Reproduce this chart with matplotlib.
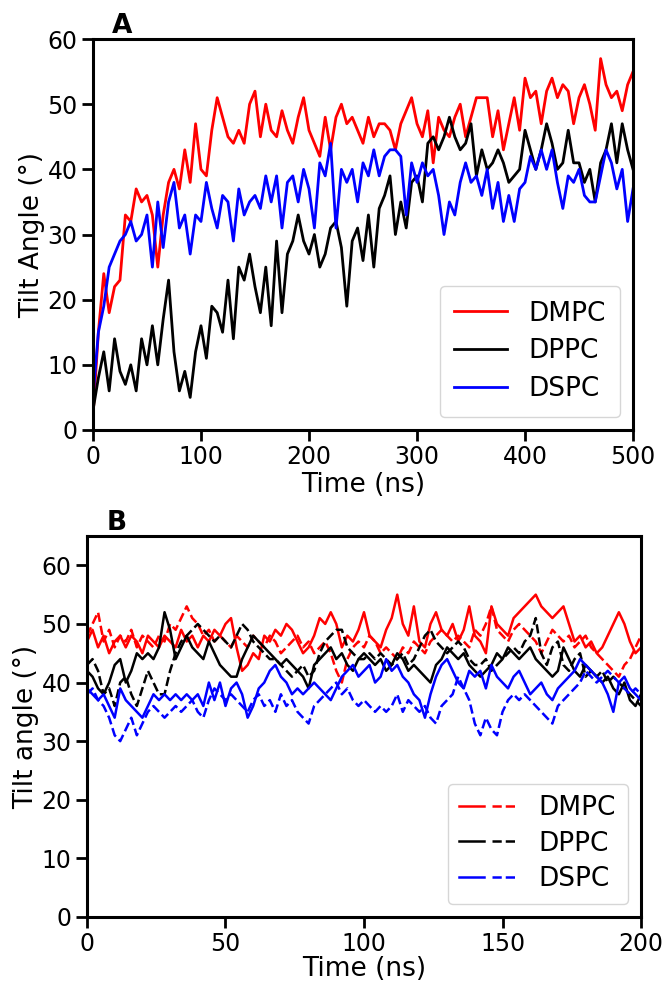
import numpy as np
import matplotlib
matplotlib.use("Agg")
import matplotlib.pyplot as plt
from matplotlib.legend_handler import HandlerTuple

# ---- panel A: 0-500 ns, every 5 ns
tA = np.arange(0, 501, 5)
dmpc_A = [2, 15, 24, 18, 22, 23, 33, 32, 37, 35, 36, 33, 25, 33, 38, 40, 37, 43, 38, 47,
          40, 39, 46, 51, 48, 45, 44, 46, 44, 50, 52, 45, 50, 46, 45, 49, 46, 44, 48, 51,
          46, 44, 42, 48, 43, 48, 50, 47, 48, 46, 44, 48, 45, 47, 47, 46, 43, 47, 49, 51,
          47, 45, 49, 41, 48, 46, 45, 48, 50, 45, 48, 51, 51, 51, 45, 49, 43, 47, 51, 46,
          54, 51, 52, 47, 52, 54, 51, 53, 52, 47, 51, 53, 50, 46, 57, 53, 51, 52, 49, 53, 55]
dppc_A = [3, 8, 12, 6, 14, 9, 7, 10, 6, 14, 10, 16, 10, 17, 23, 12, 6, 9, 5, 12,
          16, 11, 19, 18, 15, 23, 14, 25, 23, 27, 22, 18, 25, 16, 29, 18, 27, 29, 33, 29,
          27, 30, 25, 27, 31, 32, 28, 19, 29, 31, 26, 33, 25, 34, 36, 39, 30, 35, 31, 38,
          39, 35, 44, 45, 43, 45, 48, 45, 43, 44, 47, 39, 43, 40, 41, 43, 41, 38, 39, 40,
          46, 43, 40, 43, 47, 44, 40, 41, 46, 41, 41, 38, 40, 35, 41, 43, 47, 41, 47, 43, 40]
dspc_A = [5, 15, 19, 25, 27, 29, 30, 32, 29, 30, 33, 25, 35, 28, 35, 38, 31, 33, 27, 33,
          32, 38, 34, 31, 36, 35, 29, 37, 33, 35, 36, 34, 39, 35, 39, 31, 38, 39, 35, 40,
          37, 31, 41, 39, 44, 31, 40, 38, 40, 35, 41, 39, 43, 39, 42, 43, 43, 42, 33, 41,
          38, 41, 39, 40, 36, 30, 35, 33, 38, 41, 38, 39, 36, 40, 34, 38, 32, 36, 32, 37,
          38, 42, 40, 43, 40, 43, 38, 34, 39, 38, 40, 36, 35, 35, 39, 43, 41, 37, 40, 32, 37]

# ---- panel B: 0-200 ns, every 2 ns (solid = run 1, dashed = run 2)
tB = np.arange(0, 201, 2)
dmpc_B1 = [47, 49, 46, 48, 45, 47, 48, 46, 48, 47, 45, 48, 47, 46, 48, 47, 46, 49, 47, 48,
           46, 48, 47, 49, 48, 50, 51, 46, 42, 43, 45, 44, 48, 47, 49, 48, 50, 49, 47, 45,
           46, 48, 51, 50, 52, 50, 46, 48, 47, 49, 52, 48, 47, 46, 49, 51, 55, 50, 48, 53,
           47, 46, 50, 52, 49, 48, 50, 47, 49, 53, 48, 47, 45, 53, 50, 49, 48, 51, 52, 53,
           54, 55, 53, 52, 51, 52, 53, 50, 47, 48, 46, 47, 45, 46, 48, 50, 52, 50, 47, 45, 46]
dmpc_B2 = [48, 50, 52, 47, 49, 46, 48, 47, 49, 46, 48, 47, 46, 48, 47, 50, 49, 51, 53, 51,
           50, 48, 49, 47, 48, 47, 46, 48, 47, 46, 48, 47, 46, 48, 47, 45, 46, 47, 48, 46,
           47, 45, 46, 47, 45, 42, 40, 44, 46, 47, 46, 48, 47, 45, 46, 45, 44, 46, 45, 47,
           46, 45, 47, 48, 49, 48, 47, 48, 47, 46, 49, 48, 50, 53, 49, 48, 47, 49, 50, 49,
           48, 47, 45, 47, 49, 48, 47, 48, 46, 47, 48, 46, 45, 44, 43, 42, 41, 43, 44, 46, 48]
dppc_B1 = [42, 41, 39, 38, 40, 43, 44, 40, 42, 45, 44, 45, 44, 46, 52, 49, 44, 46, 48, 46,
           45, 44, 47, 45, 43, 42, 41, 41, 44, 46, 48, 47, 46, 45, 44, 43, 44, 43, 42, 41,
           39, 43, 44, 45, 46, 44, 45, 43, 42, 44, 45, 44, 43, 44, 42, 43, 45, 44, 42, 43,
           42, 41, 40, 43, 44, 46, 45, 44, 45, 43, 42, 41, 42, 43, 45, 44, 46, 45, 44, 45,
           46, 44, 43, 42, 41, 42, 46, 44, 42, 41, 43, 42, 41, 40, 41, 39, 38, 40, 37, 36, 38]
dppc_B2 = [43, 44, 42, 38, 39, 36, 40, 41, 38, 36, 39, 42, 40, 38, 38, 42, 45, 47, 48, 49,
           50, 49, 48, 47, 48, 47, 46, 48, 50, 49, 47, 46, 45, 44, 44, 43, 42, 41, 42, 43,
           41, 42, 45, 47, 48, 49, 49, 46, 45, 44, 44, 45, 44, 45, 44, 43, 44, 45, 43, 44,
           46, 48, 49, 47, 46, 45, 46, 47, 46, 44, 43, 43, 44, 42, 43, 44, 45, 46, 45, 47,
           48, 51, 45, 43, 46, 47, 43, 42, 44, 45, 41, 42, 41, 42, 40, 41, 40, 39, 38, 37, 36]
dspc_B1 = [39, 38, 37, 38, 36, 34, 39, 37, 36, 35, 34, 36, 38, 37, 38, 37, 38, 37, 38, 37,
           38, 36, 40, 37, 40, 36, 39, 40, 38, 34, 36, 39, 40, 42, 43, 41, 40, 38, 39, 38,
           39, 40, 39, 38, 37, 39, 41, 42, 43, 41, 42, 43, 40, 41, 44, 42, 43, 41, 40, 38,
           37, 34, 38, 41, 43, 44, 42, 40, 39, 42, 41, 42, 39, 43, 41, 40, 39, 41, 42, 40,
           38, 39, 40, 38, 37, 39, 40, 41, 42, 44, 43, 42, 41, 40, 38, 35, 40, 41, 39, 38, 37]
dspc_B2 = [38, 39, 37, 36, 34, 31, 30, 32, 34, 31, 33, 35, 36, 35, 34, 35, 36, 35, 36, 37,
           35, 34, 37, 39, 38, 37, 38, 37, 36, 35, 37, 38, 36, 37, 35, 38, 36, 37, 35, 34,
           33, 36, 37, 38, 39, 40, 38, 39, 37, 36, 37, 36, 35, 36, 35, 36, 38, 35, 37, 36,
           35, 36, 34, 33, 36, 37, 38, 41, 39, 37, 33, 31, 34, 32, 31, 35, 37, 38, 37, 38,
           37, 36, 35, 34, 33, 36, 37, 38, 39, 40, 42, 41, 40, 41, 42, 41, 40, 39, 38, 39, 38]

names = ["DMPC", "DPPC", "DSPC"]
colors = ["red", "black", "blue"]

plt.rcParams["font.family"] = "DejaVu Sans"
fig = plt.figure(figsize=(6.66, 9.91), dpi=100)

def style_axes(ax):
    for s in ax.spines.values():
        s.set_linewidth(2.2)
    ax.tick_params(direction="out", length=8, width=2.0, labelsize=17, pad=3)

# ---- A
axA = fig.add_axes([0.1396, 0.5661, 0.8109, 0.3945])
for y, c, n in zip([dmpc_A, dppc_A, dspc_A], colors, names):
    axA.plot(tA, y, color=c, lw=2.0, label=n)
axA.set_xlim(0, 500)
axA.set_ylim(0, 60)
axA.set_xticks([0, 100, 200, 300, 400, 500])
axA.set_yticks([0, 10, 20, 30, 40, 50, 60])
axA.set_xlabel("Time (ns)", fontsize=19, labelpad=2)
axA.set_ylabel("Tilt Angle (°)", fontsize=19, labelpad=2)
style_axes(axA)
axA.legend(loc="lower right", fontsize=19, handlelength=2.0, borderpad=0.55,
           labelspacing=0.45, borderaxespad=0.5)
axA.text(0.035, 1.0, "A", transform=axA.transAxes, fontsize=19,
         fontweight="bold", va="bottom")

# ---- B
axB = fig.add_axes([0.1306, 0.0747, 0.8319, 0.3844])
handles = []
for y1, y2, c in zip([dmpc_B1, dppc_B1, dspc_B1], [dmpc_B2, dppc_B2, dspc_B2], colors):
    h1, = axB.plot(tB, y1, color=c, lw=1.8, ls="-")
    h2, = axB.plot(tB, y2, color=c, lw=1.8, ls="--")
    handles.append((h1, h2))
axB.set_xlim(0, 200)
axB.set_ylim(0, 65)
axB.set_xticks([0, 50, 100, 150, 200])
axB.set_yticks([0, 10, 20, 30, 40, 50, 60])
axB.set_xlabel("Time (ns)", fontsize=19, labelpad=0)
axB.set_ylabel("Tilt angle (°)", fontsize=19, labelpad=2)
style_axes(axB)
axB.legend(handles, names, handler_map={tuple: HandlerTuple(ndivide=None, pad=0.3)},
           loc="lower right", fontsize=19, handlelength=2.2, borderpad=0.45,
           labelspacing=0.35, borderaxespad=0.5)
axB.text(0.035, 1.0, "B", transform=axB.transAxes, fontsize=19,
         fontweight="bold", va="bottom")

fig.savefig("out.png", dpi=100)
